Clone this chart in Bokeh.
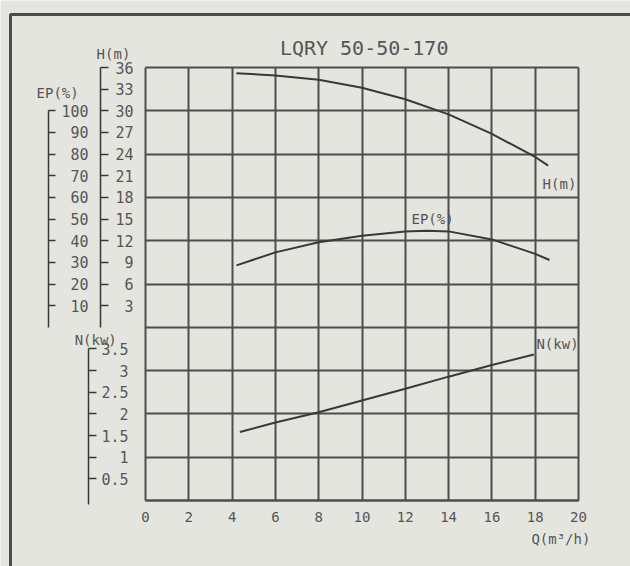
from bokeh.plotting import figure
from bokeh.models import Range1d, LinearAxis, FixedTicker, Label, BoxAnnotation
from bokeh.embed import file_html
from bokeh.resources import INLINE

# ---------------- data ----------------
title_text = "LQRY 50-50-170"
q_ticks = [0, 2, 4, 6, 8, 10, 12, 14, 16, 18, 20]
grid_rows = [0, 1, 2, 3, 4, 5, 6, 7, 8, 9, 10]
h_ticks = [3, 6, 9, 12, 15, 18, 21, 24, 27, 30, 33, 36]
ep_ticks = [10, 20, 30, 40, 50, 60, 70, 80, 90, 100]
n_ticks = [0.5, 1, 1.5, 2, 2.5, 3, 3.5]
n_tick_labels = ["0.5", "1", "1.5", "2", "2.5", "3", "3.5"]

q_h = [4.2, 6, 8, 10, 12, 14, 16, 18, 18.6]
h_vals = [35.2, 34.9, 34.3, 33.2, 31.6, 29.5, 26.8, 23.6, 22.4]

q_ep = [4.2, 6, 8, 10, 12, 13, 14, 16, 18, 18.66]
ep_vals = [28.6, 34.6, 39.3, 42.3, 44.2, 44.6, 44.3, 40.6, 33.9, 31.1]

q_n = [4.36, 6, 8, 10, 12, 14, 16, 17.94]
n_vals = [1.58, 1.80, 2.04, 2.31, 2.58, 2.86, 3.13, 3.37]

# ---------------- layout / style ----------------
W, H = 630, 566
FX0, FY0, PX_X, PX_Y = 145.0, 500.0, 21.65, 43.3   # grid origin and scale in px
BG = "#e5e5e0"
GRID = "#4d4d4d"
INK = "#383838"
TXT = "#555555"
FONT = "DejaVu Sans Mono"

x0, x1 = -FX0 / PX_X, (W - FX0) / PX_X
y0, y1 = (FY0 - H) / PX_Y, FY0 / PX_Y

p = figure(width=W, height=H,
           x_range=Range1d(x0, x1), y_range=Range1d(y0, y1),
           x_axis_location=None, y_axis_location=None,
           min_border=0, min_border_left=0, min_border_right=0,
           min_border_top=0, min_border_bottom=0,
           output_backend="svg", toolbar_location=None)

# H = 6*(y-4), EP = 20*(y-4), N = y
p.extra_y_ranges = {"H": Range1d(6 * (y0 - 4), 6 * (y1 - 4)),
                    "EP": Range1d(20 * (y0 - 4), 20 * (y1 - 4)),
                    "N": Range1d(y0, y1)}

p.background_fill_color = BG
p.border_fill_color = BG
p.outline_line_color = None

xg = p.xgrid[0]
xg.ticker = FixedTicker(ticks=q_ticks)
xg.bounds = (-0.001, 20.001)
xg.cross_bounds = (0, 10)
yg = p.ygrid[0]
yg.ticker = FixedTicker(ticks=grid_rows)
yg.bounds = (-0.001, 10.001)
yg.cross_bounds = (0, 20)
for g in (xg, yg):
    g.grid_line_color = GRID
    g.grid_line_width = 2
    g.grid_line_alpha = 1

xa = LinearAxis(fixed_location=0, bounds=(0, 20), ticker=FixedTicker(ticks=q_ticks),
                major_tick_in=0, major_tick_out=0, minor_tick_in=0, minor_tick_out=0,
                major_label_standoff=11, axis_line_color=GRID, axis_line_width=2,
                major_label_text_font=FONT, major_label_text_font_size="14px",
                major_label_text_color=TXT)
p.add_layout(xa, "below")


def left_axis(rng, loc, bounds, ticks, standoff, tick_len, overrides=None):
    ax = LinearAxis(y_range_name=rng, fixed_location=loc, bounds=bounds,
                    ticker=FixedTicker(ticks=ticks),
                    major_tick_in=tick_len, major_tick_out=0,
                    minor_tick_in=0, minor_tick_out=0,
                    major_label_standoff=standoff,
                    axis_line_color=INK, axis_line_width=1.5,
                    major_tick_line_color=INK, major_tick_line_width=1.5,
                    major_label_text_font=FONT,
                    major_label_text_font_size="15px",
                    major_label_text_color=TXT)
    if overrides:
        ax.major_label_overrides = overrides
    p.add_layout(ax, "left")
    return ax


left_axis("H", -2.08, (0, 36), h_ticks, -33, 8)
left_axis("EP", -4.48, (0, 100), ep_ticks, -40, 7)
left_axis("N", -2.63, (-0.1, 3.5), n_ticks, -40, 8,
          {t: s for t, s in zip(n_ticks, n_tick_labels)})

# curves
p.line(q_h, h_vals, y_range_name="H", line_color=INK, line_width=2)
p.line(q_ep, ep_vals, y_range_name="EP", line_color=INK, line_width=2)
p.line(q_n, n_vals, y_range_name="N", line_color=INK, line_width=2)


def lab(x, y, t, size="14px", align="center"):
    p.add_layout(Label(x=x, y=y, text=t, text_font=FONT, text_font_size=size,
                       text_color=TXT, text_align=align, text_baseline="middle"))


lab(10.1, 10.44, title_text, size="20px")
lab(19.12, 7.32, "H(m)")
lab(13.26, 6.51, "EP(%)")
lab(19.03, 3.62, "N(kw)")
lab(-1.48, 10.32, "H(m)")
lab(-4.06, 9.42, "EP(%)")
lab(-2.3, 3.7, "N(kw)")
lab(20.55, -0.9, "Q(m³/h)", align="right")

# outer frame of the sheet
p.add_layout(BoxAnnotation(left=10, right=1000, top=14, bottom=1000,
                           left_units="canvas", right_units="canvas",
                           top_units="canvas", bottom_units="canvas",
                           fill_alpha=0, line_color="#4a4a4a", line_alpha=1,
                           line_width=3))

open("out.html", "w").write(file_html(p, INLINE))
